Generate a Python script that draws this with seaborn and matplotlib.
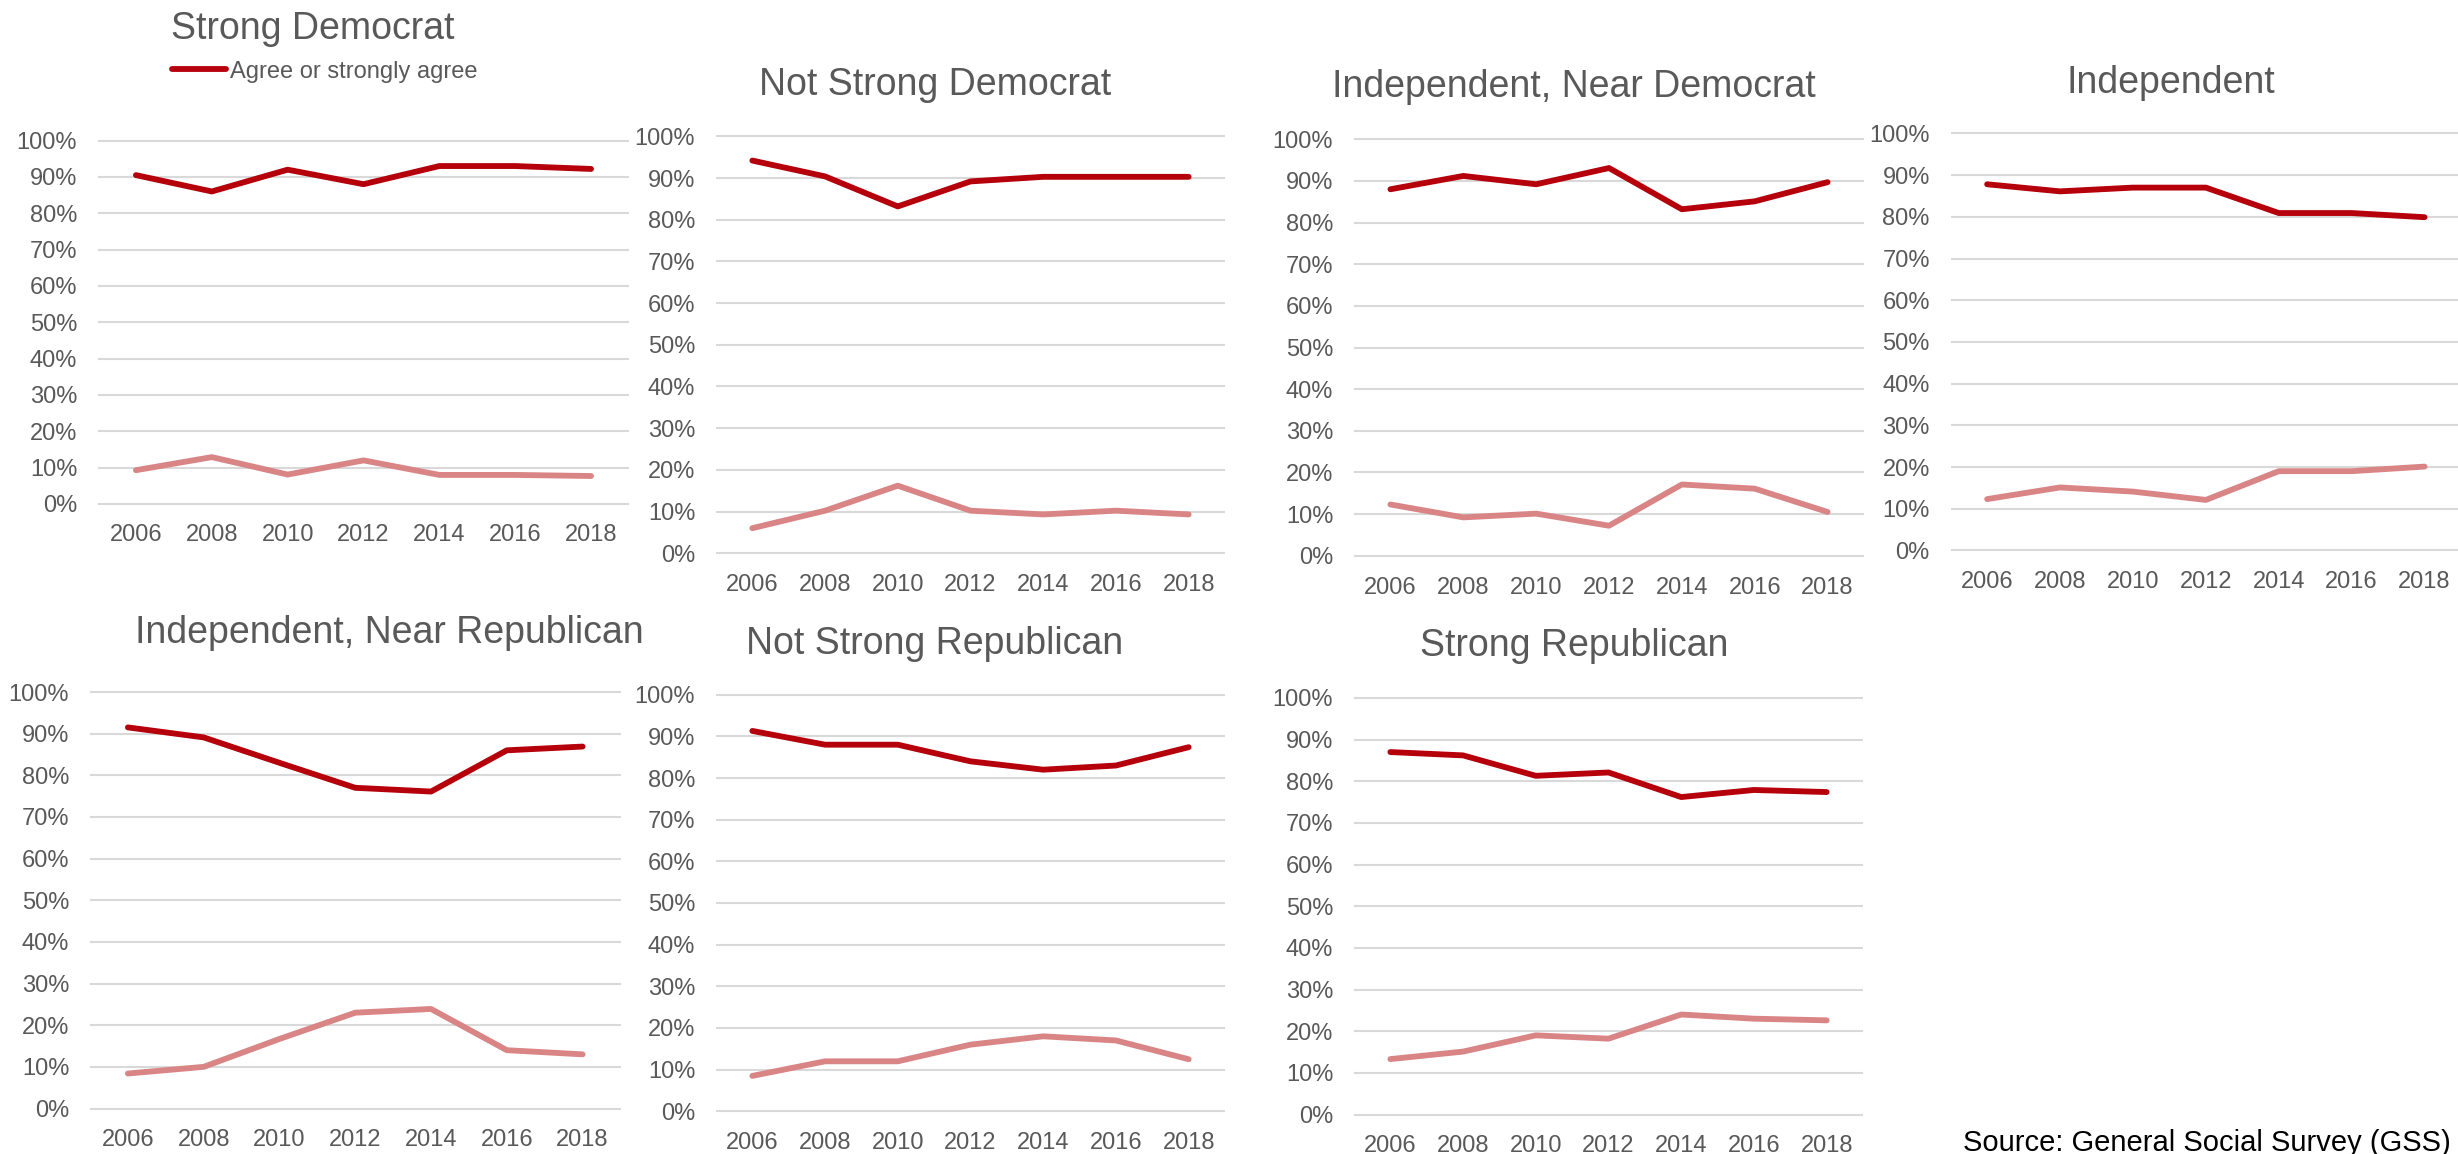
import matplotlib
matplotlib.use("Agg")
import matplotlib.pyplot as plt
from matplotlib.ticker import PercentFormatter
import seaborn as sns
import pandas as pd

# ---------------- data ----------------
years = [2006, 2008, 2010, 2012, 2014, 2016, 2018]
series_names = ["Agree or strongly agree", "Disagree or strongly disagree"]
panel_titles = ["Strong Democrat", "Not Strong Democrat", "Independent, Near Democrat",
                "Independent", "Independent, Near Republican", "Not Strong Republican",
                "Strong Republican"]

agree_strong_dem = [0.905, 0.860, 0.920, 0.880, 0.930, 0.930, 0.922]
disagree_strong_dem = [0.093, 0.129, 0.081, 0.120, 0.080, 0.080, 0.077]

agree_not_strong_dem = [0.942, 0.904, 0.832, 0.892, 0.903, 0.903, 0.903]
disagree_not_strong_dem = [0.060, 0.102, 0.162, 0.102, 0.093, 0.102, 0.093]

agree_ind_near_dem = [0.880, 0.912, 0.892, 0.931, 0.832, 0.851, 0.897]
disagree_ind_near_dem = [0.123, 0.092, 0.101, 0.072, 0.171, 0.161, 0.105]

agree_independent = [0.878, 0.861, 0.870, 0.870, 0.809, 0.809, 0.799]
disagree_independent = [0.123, 0.151, 0.141, 0.121, 0.190, 0.190, 0.201]

agree_ind_near_rep = [0.915, 0.891, 0.830, 0.770, 0.761, 0.860, 0.869]
disagree_ind_near_rep = [0.084, 0.100, 0.167, 0.230, 0.239, 0.140, 0.130]

agree_not_strong_rep = [0.913, 0.880, 0.880, 0.840, 0.820, 0.830, 0.874]
disagree_not_strong_rep = [0.085, 0.120, 0.120, 0.160, 0.180, 0.170, 0.125]

agree_strong_rep = [0.870, 0.862, 0.813, 0.821, 0.762, 0.779, 0.774]
disagree_strong_rep = [0.133, 0.151, 0.190, 0.182, 0.240, 0.230, 0.226]

source_text = "Source: General Social Survey (GSS)"

# ---------------- style ----------------
sns.set_theme(style="white")
plt.rcParams["font.family"] = ["Liberation Sans", "DejaVu Sans"]

W, H = 2458, 1154
fig = plt.figure(figsize=(W / 100, H / 100), dpi=100)

DARK = "#B5000B"
LIGHT = "#D98585"
GREY_TXT = "#595959"
GRID = "#D9D9D9"

panels = [
    (agree_strong_dem, disagree_strong_dem),
    (agree_not_strong_dem, disagree_not_strong_dem),
    (agree_ind_near_dem, disagree_ind_near_dem),
    (agree_independent, disagree_independent),
    (agree_ind_near_rep, disagree_ind_near_rep),
    (agree_not_strong_rep, disagree_not_strong_rep),
    (agree_strong_rep, disagree_strong_rep),
]

# pixel layout: x_left, x_right, y(100%), y(0%), title center x, title baseline y
layout = [
    (98, 629, 140.6, 504.0, 313, 38.8),
    (716, 1225, 136.4, 553.2, 935, 95.4),
    (1354, 1864, 139.3, 555.7, 1574, 97.0),
    (1950.7, 2461, 133.4, 550.4, 2171, 93.2),
    (90, 620.5, 692.0, 1108.5, 389, 643.0),
    (716, 1225, 694.7, 1111.3, 935, 653.7),
    (1354, 1863, 697.9, 1114.5, 1574, 655.8),
]

MARG = 0.01
axes = []
for (agree, disagree), title, (x0, x1, ytop, ybot, tx, ty) in zip(panels, panel_titles, layout):
    h = ybot - ytop
    top = ytop - MARG * h
    bot = ybot + MARG * h
    ax = fig.add_axes([x0 / W, 1 - bot / H, (x1 - x0) / W, (bot - top) / H])
    axes.append(ax)

    df = pd.DataFrame({
        "year": years * 2,
        "value": list(agree) + list(disagree),
        "series": [series_names[0]] * len(years) + [series_names[1]] * len(years),
    })
    sns.lineplot(data=df, x="year", y="value", hue="series", hue_order=series_names,
                 palette={series_names[0]: DARK, series_names[1]: LIGHT},
                 linewidth=4.2, legend=False, ax=ax)
    for ln in ax.lines:
        ln.set_solid_capstyle("round")
        ln.set_solid_joinstyle("round")

    ax.set_xlim(2005, 2019)
    ax.set_ylim(-MARG, 1 + MARG)
    ax.set_xticks(years)
    ax.set_xticklabels([str(y) for y in years])
    ax.set_yticks([i / 10 for i in range(11)])
    ax.yaxis.set_major_formatter(PercentFormatter(1.0, decimals=0))
    ax.set_xlabel("")
    ax.set_ylabel("")
    for s in ax.spines.values():
        s.set_visible(False)
    ax.yaxis.grid(True, color=GRID, linewidth=1.5)
    ax.xaxis.grid(False)
    ax.set_axisbelow(True)
    ax.tick_params(axis="both", length=0, labelsize=17, colors=GREY_TXT)
    ax.tick_params(axis="y", pad=15)
    ax.tick_params(axis="x", pad=12)
    ax.set_facecolor("none")

    fig.text(tx / W, 1 - ty / H, title, ha="center", va="baseline",
             fontsize=27, color=GREY_TXT)

# legend (only the first series is visible in the original)
fig.legend(handles=[axes[0].lines[0]], labels=[series_names[0]],
           loc="center left", bbox_to_anchor=(171.7 / W, 1 - 71.7 / H),
           frameon=False, fontsize=17, labelcolor=GREY_TXT,
           handlelength=2.3, handletextpad=0.15, borderpad=0, borderaxespad=0)

fig.text(1962.6 / W, 1 - 1151 / H, source_text, ha="left", va="baseline",
         fontsize=21, color="black")

fig.savefig("out.png", dpi=100, facecolor="white")
